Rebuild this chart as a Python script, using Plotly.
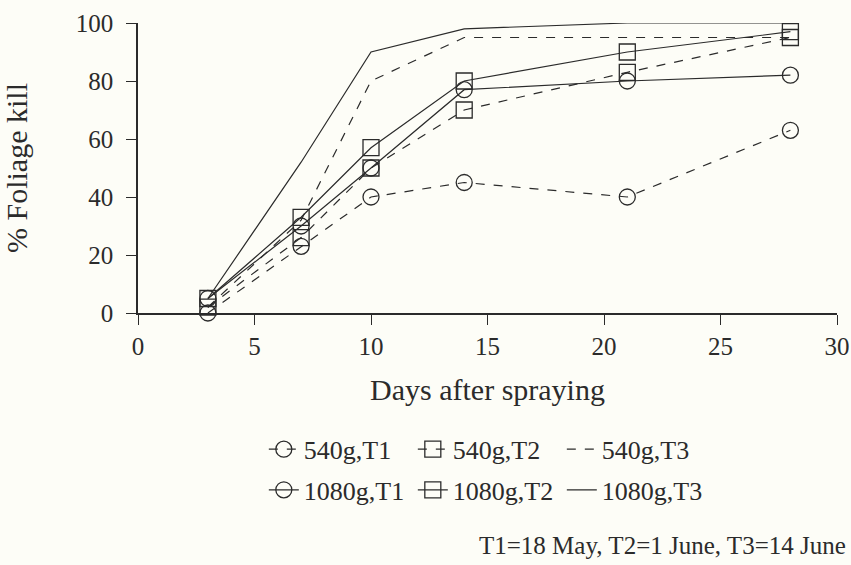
import plotly.graph_objects as go

days = [3, 7, 10, 14, 21, 28]
s540_T1 = [0, 23, 40, 45, 40, 63]
s540_T2 = [2, 26, 50, 70, 83, 95]
s540_T3 = [2, 32, 80, 95, 95, 95]
s1080_T1 = [5, 30, 50, 77, 80, 82]
s1080_T2 = [5, 33, 57, 80, 90, 97]
s1080_T3 = [5, 52, 90, 98, 100, 100]

x_ticks = [0, 5, 10, 15, 20, 25, 30]
y_ticks = [0, 20, 40, 60, 80, 100]

INK = "#2b2b2b"
BG = "#fdfdf7"
FONT = "Liberation Serif, Times New Roman, serif"

series = [
    ("540g,T1", s540_T1, "dash", "circle-open", "legend"),
    ("540g,T2", s540_T2, "dash", "square-open", "legend"),
    ("540g,T3", s540_T3, "dash", None, "legend"),
    ("1080g,T1", s1080_T1, "solid", "circle-open", "legend2"),
    ("1080g,T2", s1080_T2, "solid", "square-open", "legend2"),
    ("1080g,T3", s1080_T3, "solid", None, "legend2"),
]

fig = go.Figure()
for name, vals, dash, sym, leg in series:
    kw = dict(
        x=days, y=vals, name=name, legend=leg,
        line=dict(color=INK, width=1.2, dash=dash),
        cliponaxis=False,
    )
    if sym:
        kw["mode"] = "lines+markers"
        kw["marker"] = dict(symbol=sym, size=16, color=INK, line=dict(width=1.3, color=INK))
    else:
        kw["mode"] = "lines"
    fig.add_trace(go.Scatter(**kw))

legend_common = dict(
    orientation="h", xanchor="left", yanchor="middle",
    font=dict(family=FONT, size=26, color=INK),
    bgcolor="rgba(0,0,0,0)", itemwidth=30,
    entrywidth=104, entrywidthmode="pixels",
    tracegroupgap=0, itemclick=False,
)

fig.update_layout(
    width=851, height=565,
    margin=dict(l=138, r=14, t=23, b=252),
    paper_bgcolor=BG, plot_bgcolor=BG,
    font=dict(family=FONT, size=25, color=INK),
    legend=dict(x=0.18, y=-0.47, **legend_common),
    legend2=dict(x=0.18, y=-0.61, **legend_common),
    xaxis=dict(
        range=[0, 30], tickvals=x_ticks, showgrid=False, zeroline=False,
        showline=True, linecolor=INK, linewidth=2,
        ticks="outside", ticklen=10, tickwidth=1.2, tickcolor=INK,
        ticklabelstandoff=0,
        title=dict(text="Days after spraying", standoff=20),
        automargin=False,
    ),
    yaxis=dict(
        range=[0, 100], tickvals=y_ticks, showgrid=False, zeroline=False,
        showline=True, linecolor=INK, linewidth=1.6,
        ticks="outside", ticklen=10, tickwidth=1.2, tickcolor=INK,
        ticklabelstandoff=8,
        title=dict(text="% Foliage kill", standoff=40),
        automargin=False,
    ),
    annotations=[
        dict(
            text="T1=18 May, T2=1 June, T3=14 June",
            xref="paper", yref="paper", x=1.016, y=-0.803,
            xanchor="right", yanchor="middle", showarrow=False,
            font=dict(family=FONT, size=25, color=INK),
        )
    ],
)

fig.write_html("out.html")
